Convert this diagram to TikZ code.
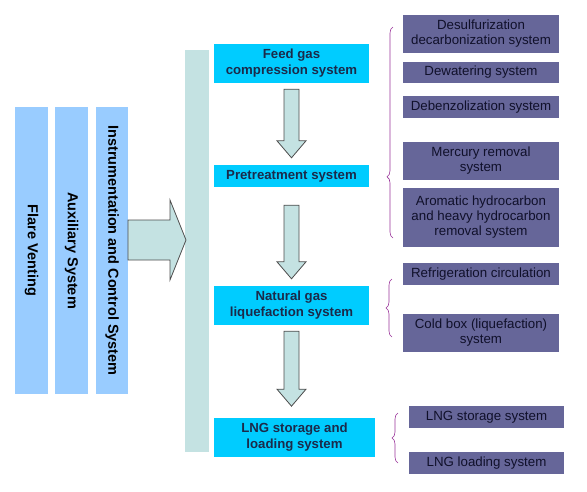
\documentclass[tikz,border=0pt]{standalone}
\usepackage{fontspec}
\setmainfont{Liberation Sans}
\usepackage{tikz}
\usetikzlibrary{calc,decorations.pathreplacing}

\definecolor{barblue}{HTML}{99CCFF}
\definecolor{paleteal}{HTML}{C4E2E2}
\definecolor{stagecyan}{HTML}{00CCFF}
\definecolor{unitpurple}{HTML}{666699}
\definecolor{stagetext}{HTML}{1B2A4A}
\definecolor{unittext}{HTML}{10102A}
\definecolor{bracepurple}{HTML}{993399}

\newcommand{\flowarrow}[2]{%
    \draw[blockarrow] ($(#1)+(-7.5,0)$) -- ($(#1)+(7.5,0)$) -- ($(#2)+(7.5,-17)$)
        -- ($(#2)+(14.5,-17)$) -- (#2) -- ($(#2)+(-14.5,-17)$) -- ($(#2)+(-7.5,-17)$) -- cycle;}

\begin{document}
\begin{tikzpicture}[x=1pt,y=-1pt]
    \tikzset{sidebar/.style={fill=barblue, rotate=-90, minimum width=287pt, minimum height=33pt,
                inner sep=0pt, font=\fontsize{14.5}{16}\selectfont\bfseries},
             stagebox/.style={fill=stagecyan, text=stagetext, align=center, inner sep=0pt,
                minimum width=155pt, font=\fontsize{13.2}{16}\selectfont\bfseries},
             unitbox/.style={fill=unitpurple, text=unittext, align=center, inner sep=0pt,
                minimum width=156pt, font=\fontsize{13.3}{15}\selectfont},
             blockarrow/.style={fill=paleteal, draw=black!70, line width=0.8pt, line join=miter},
             groupbrace/.style={draw=bracepurple, line width=0.6pt, decorate},}
    \useasboundingbox (0,0) rectangle (587,491);

    % left side systems
    \node[sidebar] (flare) at (31.5,250.5) {Flare Venting};
    \node[sidebar] (aux) at (71.5,250.5) {Auxiliary System};
    \node[sidebar, minimum height=32pt] (instr) at (112,250.5) {Instrumentation and Control System};
    \node[fill=paleteal, minimum width=24pt, minimum height=402pt, inner sep=0pt] (mainbar) at (197,251) {};

    % main process stages
    \node[stagebox, minimum height=39pt] (feedgas) at (291.5,63.5) {Feed gas\\compression system};
    \node[stagebox, minimum height=22pt] (pretreat) at (291.5,176) {Pretreatment system};
    \node[stagebox, minimum height=39pt] (natgas) at (291.5,305.5) {Natural gas\\liquefaction system};
    \node[stagebox, minimum height=39pt, minimum width=161pt] (lngsys) at (294.5,437.5) {LNG storage and\\loading system};

    % sub systems
    \node[unitbox, minimum height=38pt] (desulf) at (481,34) {Desulfurization\\decarbonization system};
    \node[unitbox, minimum height=21pt] (dewater) at (481,72.5) {Dewatering system};
    \node[unitbox, minimum height=22pt] (debenz) at (481,107) {Debenzolization system};
    \node[unitbox, minimum height=38pt] (mercury) at (481,161) {Mercury removal\\system};
    \node[unitbox, minimum height=59pt] (aromatic) at (481,217.5) {Aromatic hydrocarbon\\and heavy hydrocarbon\\removal system};
    \node[unitbox, minimum height=22pt] (refrig) at (481,274) {Refrigeration circulation};
    \node[unitbox, minimum height=38pt] (coldbox) at (481,333) {Cold box (liquefaction)\\system};
    \node[unitbox, minimum height=22pt, minimum width=155pt] (lngstore) at (486.5,417) {LNG storage system};
    \node[unitbox, minimum height=22pt, minimum width=155pt] (lngload) at (486.5,463) {LNG loading system};

    % arrows
    \coordinate (bigtail) at (128,240);
    \coordinate (bigtip) at (186,240);
    \draw[blockarrow] ($(bigtail)+(0,-20)$) -- ($(bigtip)+(-16,-20)$) -- ($(bigtip)+(-16,-40)$) -- (bigtip)
        -- ($(bigtip)+(-16,40)$) -- ($(bigtip)+(-16,20)$) -- ($(bigtail)+(0,20)$) -- cycle;
    \flowarrow{$(feedgas.south)+(0,6)$}{$(pretreat.north)+(0,-7)$}
    \flowarrow{$(pretreat.south)+(0,18)$}{$(natgas.north)+(0,-7)$}
    \flowarrow{$(natgas.south)+(0,6)$}{$(natgas.south)+(0,81)$}

    % braces
    \draw[groupbrace, decoration={brace, amplitude=6pt, aspect=0.29}] (393,238) -- (393,27);
    \draw[groupbrace, decoration={brace, amplitude=6pt}] (392,337) -- (392,279);
    \draw[groupbrace, decoration={brace, amplitude=6pt}] (398,463) -- (398,413);
\end{tikzpicture}
\end{document}
